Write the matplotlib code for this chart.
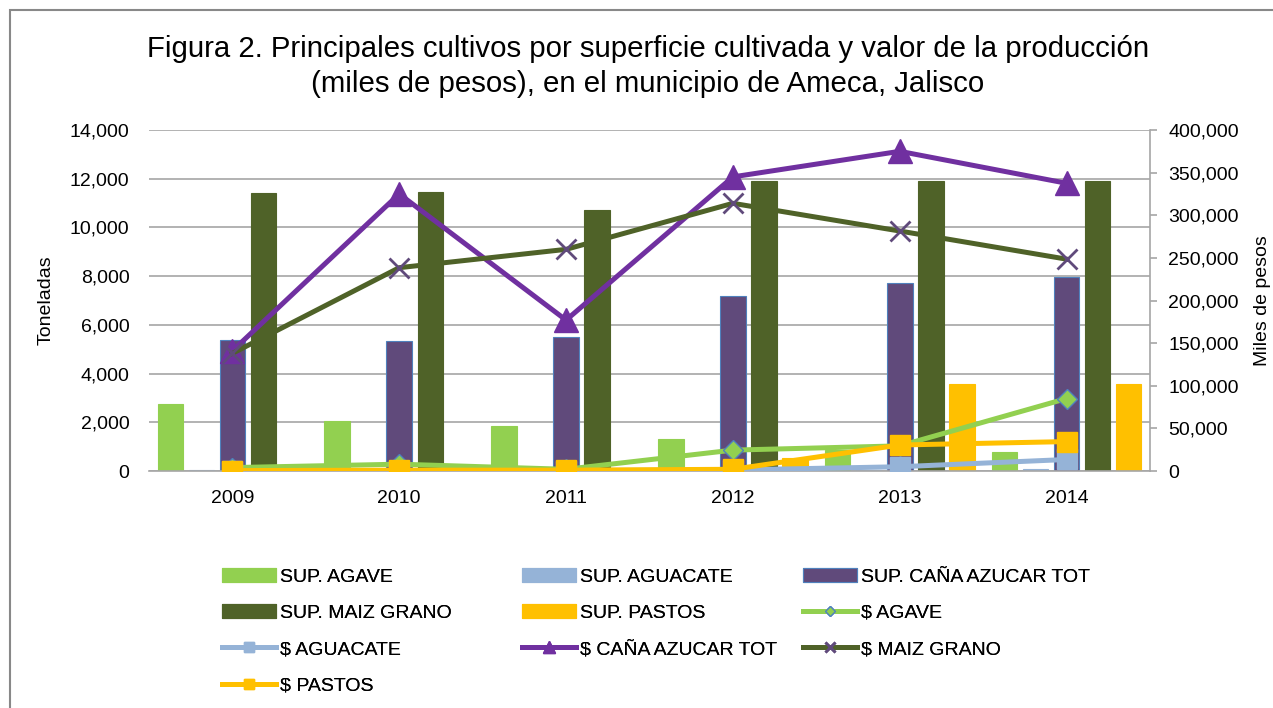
import matplotlib
matplotlib.use("Agg")
import matplotlib.pyplot as plt
from matplotlib.patches import Rectangle
from matplotlib.ticker import FuncFormatter, MultipleLocator
import numpy as np

plt.rcParams['font.family'] = ['Liberation Sans', 'DejaVu Sans']

# data
years = ['2009', '2010', '2011', '2012', '2013', '2014']

# superficie (toneladas, eje izquierdo)
sup_agave = [2750, 2050, 1850, 1300, 850, 780]
sup_aguacate = [30, 10, 10, 20, 40, 80]
sup_cana = [5370, 5350, 5500, 7200, 7700, 7950]
sup_maiz = [11400, 11450, 10700, 11900, 11900, 11900]
sup_pastos = [0, 0, 0, 550, 3570, 3570]

# valor de la produccion (miles de pesos, eje derecho)
val_agave = [4000, 8000, 2000, 24500, 29500, 85000]
val_aguacate = [500, 500, 500, 1200, 5000, 13500]
val_cana = [141000, 325000, 177000, 345000, 375000, 337500]
val_maiz = [138000, 238500, 260000, 314000, 281500, 248500]
val_pastos = [500, 1000, 1000, 2000, 30500, 34500]

W, H = 1273, 708
fig = plt.figure(figsize=(W / 100, H / 100), dpi=100)
ax = fig.add_axes([149 / W, 1 - 471 / H, 1001 / W, 341 / H])
ax2 = ax.twinx()

grid_c = '#A6A6A6'
x = np.arange(len(years))
bw = 0.153
step = 0.186

bars = [
    (sup_agave, 'SUP. AGAVE', '#92D050', '#92D050'),
    (sup_aguacate, 'SUP. AGUACATE', '#95B3D7', '#95B3D7'),
    (sup_cana, 'SUP. CAÑA AZUCAR TOT', '#604A7B', '#4F81BD'),
    (sup_maiz, 'SUP. MAIZ GRANO', '#4F6228', '#4F6228'),
    (sup_pastos, 'SUP. PASTOS', '#FFC000', '#FFC000'),
]
handles = []
for i, (vals, lab, fc, ec) in enumerate(bars):
    h = ax.bar(x + (i - 2) * step, vals, width=bw, color=fc, edgecolor=ec,
               linewidth=0.8, label=lab, zorder=2)
    handles.append(h)

lines = [
    (val_agave, '$ AGAVE', '#92D050', 'D', '#92D050', '#4F81BD', 10),
    (val_aguacate, '$ AGUACATE', '#95B3D7', 's', '#95B3D7', '#95B3D7', 15),
    (val_cana, '$ CAÑA AZUCAR TOT', '#7030A0', '^', '#7030A0', '#7030A0', 17),
    (val_maiz, '$ MAIZ GRANO', '#4F6228', 'x', '#604A7B', '#604A7B', 14),
    (val_pastos, '$ PASTOS', '#FFC000', 's', '#FFC000', '#FFC000', 15),
]
for vals, lab, c, m, mfc, mec, ms in lines:
    h, = ax2.plot(x, vals, color=c, lw=3.6, marker=m, markersize=ms,
                  markerfacecolor=mfc, markeredgecolor=mec,
                  markeredgewidth=2 if m == 'x' else 1, label=lab, zorder=3)
    handles.append(h)

# left axis
ax.set_xlim(-0.5, len(years) - 0.5)
ax.set_ylim(0, 14000)
ax.yaxis.set_major_locator(MultipleLocator(2000))
ax.yaxis.set_major_formatter(FuncFormatter(lambda v, p: f'{v:,.0f}'))
ax.grid(axis='y', color=grid_c, lw=1.2, zorder=0)
ax.set_axisbelow(True)
ax.set_xticks(x)
ax.set_xticklabels(years)
ax.tick_params(axis='x', length=0, pad=14, labelsize=14, colors='black')
ax.tick_params(axis='y', length=0, pad=14, labelsize=14)
for s in ['top', 'left', 'right']:
    ax.spines[s].set_visible(False)
ax.spines['bottom'].set_color(grid_c)
ax.spines['bottom'].set_linewidth(1.2)
ax.set_ylabel('Toneladas', fontsize=14)
ax.yaxis.set_label_coords(-0.094, 0.5)

# right axis
ax2.set_ylim(0, 400000)
ax2.yaxis.set_major_locator(MultipleLocator(50000))
ax2.yaxis.set_major_formatter(FuncFormatter(lambda v, p: f'{v:,.0f}'))
ax2.tick_params(axis='y', length=5, width=1.2, color=grid_c, pad=8, labelsize=14)
for s in ['top', 'left', 'bottom']:
    ax2.spines[s].set_visible(False)
ax2.spines['right'].set_color(grid_c)
ax2.spines['right'].set_linewidth(1.2)
ax2.set_ylabel('Miles de pesos', fontsize=14)
ax2.yaxis.set_label_coords(1.104, 0.5)

# title
fig.text(648 / W, 1 - 49 / H, 'Figura 2. Principales cultivos por superficie cultivada y valor de la producción',
         ha='center', va='center', fontsize=21.2)
fig.text(648 / W, 1 - 84 / H, '(miles de pesos), en el municipio de Ameca, Jalisco',
         ha='center', va='center', fontsize=21.2)

# legend, three columns filled row by row
cols = [[0, 3, 6, 9], [1, 4, 7], [2, 5, 8]]
col_x = [222, 522, 803]
for idx, cx in zip(cols, col_x):
    leg = fig.legend([handles[i] for i in idx], [handles[i].get_label() for i in idx],
                     loc='upper left', bbox_to_anchor=(cx / W, 1 - 568 / H),
                     frameon=False, fontsize=14, borderpad=0, borderaxespad=0,
                     handlelength=2.8, handleheight=0.7, handletextpad=0.2,
                     labelspacing=0.96, markerscale=0.5)
    fig.add_artist(leg)

# outer chart border
fig.add_artist(Rectangle((10 / W, -0.1), 1.2, 1 - 10 / H + 0.1, transform=fig.transFigure,
                         fill=False, edgecolor='#888888', linewidth=1.5, clip_on=False))

fig.savefig('out.png', dpi=100)
